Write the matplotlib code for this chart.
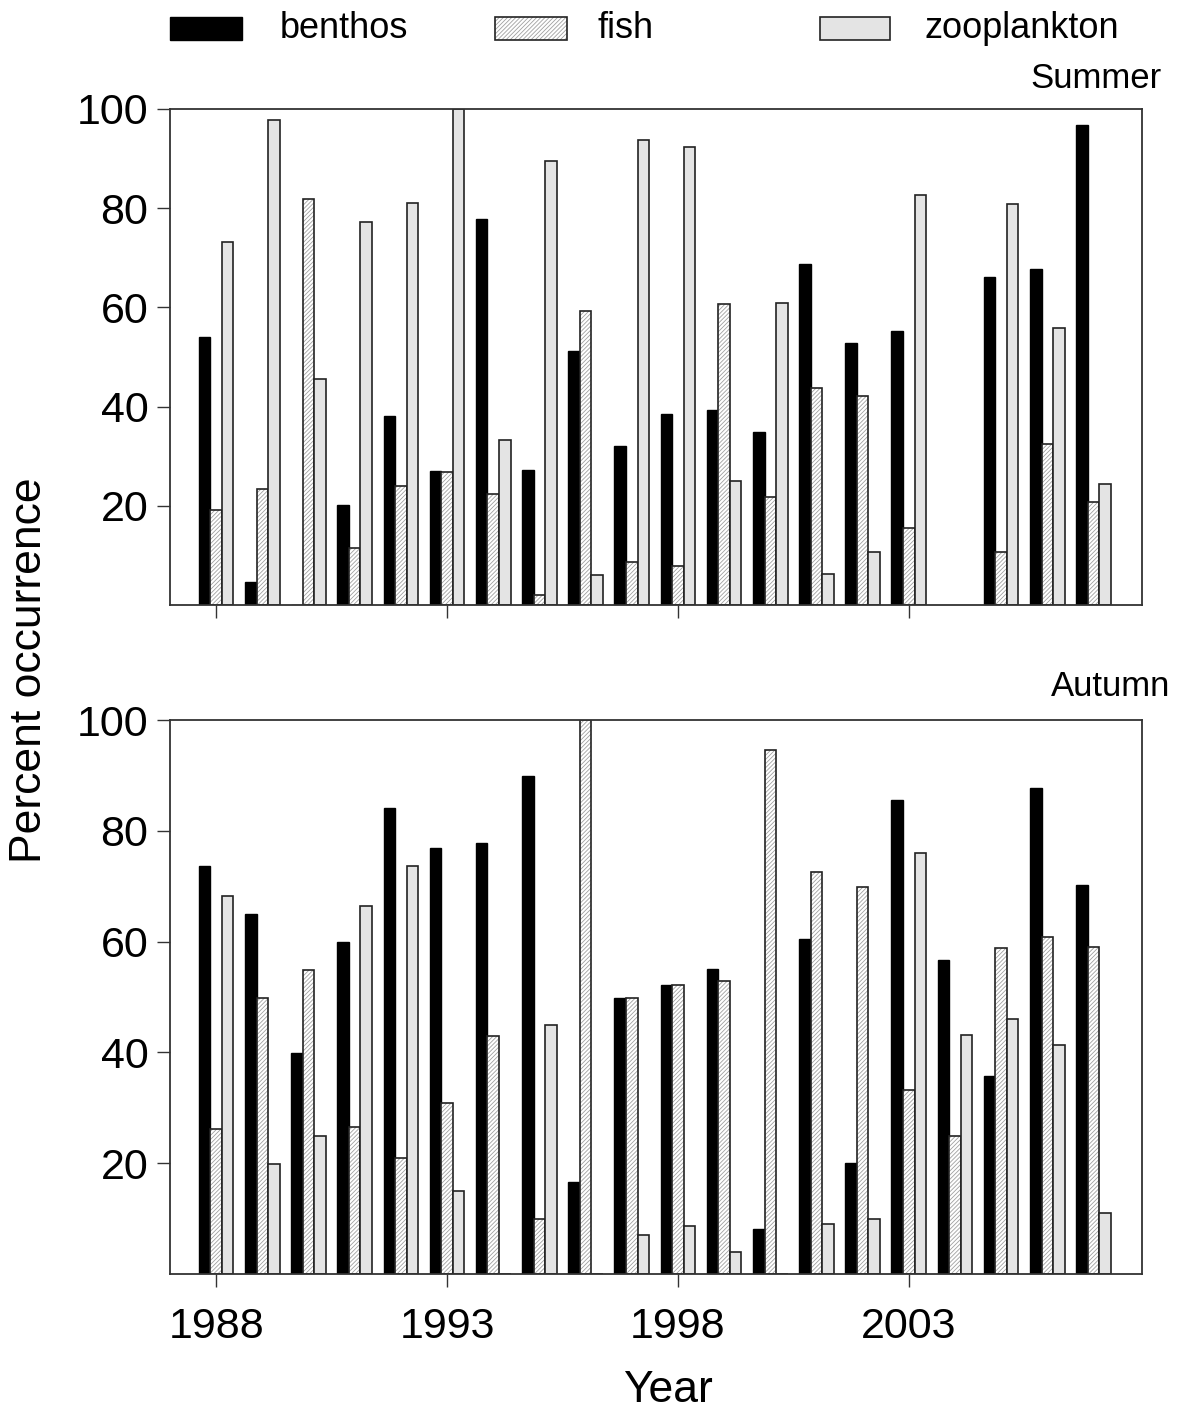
import numpy as np
import matplotlib
matplotlib.use("Agg")
import matplotlib.pyplot as plt
from matplotlib.patches import Rectangle

plt.rcParams['font.family'] = ['Liberation Sans', 'DejaVu Sans']
plt.rcParams['hatch.linewidth'] = 0.6

years = np.arange(1988, 2008)
series = ["benthos", "fish", "zooplankton"]
tick_years = [1988, 1993, 1998, 2003]
y_ticks = [20, 40, 60, 80, 100]

nan = np.nan
summer_benthos = [54, 4.7, 0, 20.1, 38.1, 27.1, 77.8, 27.2, 51.2, 32.1,
                  38.6, 39.4, 34.8, 68.8, 52.8, 55.3, nan, 66.1, 67.7, 96.7]
summer_fish = [19.2, 23.4, 81.8, 11.4, 24.0, 26.9, 22.3, 2.1, 59.2, 8.6,
               7.8, 60.7, 21.8, 43.7, 42.1, 15.5, nan, 10.6, 32.4, 20.7]
summer_zoo = [73.1, 97.7, 45.5, 77.2, 81.0, 100, 33.3, 89.5, 6.1, 93.7,
              92.3, 25.0, 60.9, 6.3, 10.6, 82.7, nan, 80.9, 55.9, 24.3]

autumn_benthos = [73.6, 64.9, 39.9, 59.9, 84.1, 76.9, 77.8, 89.9, 16.6, 49.9,
                  52.1, 55.1, 8.1, 60.5, 20.0, 85.6, 56.7, 35.8, 87.7, 70.2]
autumn_fish = [26.2, 49.8, 54.8, 26.5, 20.9, 30.9, 43.0, 9.9, 100, 49.9,
               52.1, 52.9, 94.5, 72.6, 69.9, 33.3, 24.9, 58.8, 60.8, 59.1]
autumn_zoo = [68.2, 19.9, 24.9, 66.5, 73.6, 14.9, 0, 45.0, 0, 7.1,
              8.6, 4.0, 0, 9.0, 9.9, 76.0, 43.1, 46.0, 41.4, 11.1]

W, H = 1182, 1414
fig = plt.figure(figsize=(W / 100, H / 100), dpi=100)

def fx(px):
    return px / W

def fy(py):
    return 1 - py / H

ax_s = fig.add_axes([fx(170), fy(605), fx(1142) - fx(170), fy(109) - fy(605)])
ax_a = fig.add_axes([fx(170), fy(1274), fx(1142) - fx(170), fy(720) - fy(1274)])

bw = 0.25
HATCH = '////////'
HATCH_COL = '#a0a0a0'
OUTLINE = '#222222'

def draw(ax, data):
    b, f, z = data
    ax.bar(years - bw, b, width=bw, color='black', edgecolor='black', linewidth=1.0)
    # fish: light hatch + dark outline
    ax.bar(years, f, width=bw, color='white', edgecolor=HATCH_COL, linewidth=0, hatch=HATCH)
    ax.bar(years, f, width=bw, fill=False, edgecolor=OUTLINE, linewidth=1.2)
    ax.bar(years + bw, z, width=bw, color='#e4e4e4', edgecolor=OUTLINE, linewidth=1.2)
    ax.set_xlim(1987.0, 2008.05)
    ax.set_ylim(0, 100)
    ax.set_xticks(tick_years)
    ax.set_yticks(y_ticks)
    ax.tick_params(direction='out', length=9.5, width=1.0, labelsize=31, color='#333333')
    ax.tick_params(axis='x', pad=14)
    ax.tick_params(axis='y', pad=6)
    for sp in ax.spines.values():
        sp.set_linewidth(1.3)
        sp.set_color('#333333')

draw(ax_s, [summer_benthos, summer_fish, summer_zoo])
draw(ax_a, [autumn_benthos, autumn_fish, autumn_zoo])
ax_s.set_xticklabels([])

fig.text(fx(1162), fy(78), "Summer", ha='right', va='center', fontsize=25)
fig.text(fx(1170), fy(686), "Autumn", ha='right', va='center', fontsize=25)
fig.text(fx(30), fy(670), "Percent occurrence", rotation=90, ha='center', va='center', fontsize=32)
fig.text(fx(668), fy(1390), "Year", ha='center', va='center', fontsize=32)

# legend
legend_boxes = [(170, 242), (495, 567), (820, 890)]
legend_text_x = [280, 597, 925]
box_styles = [
    [dict(facecolor='black', edgecolor='black', linewidth=1.0)],
    [dict(facecolor='white', edgecolor=HATCH_COL, linewidth=0, hatch=HATCH),
     dict(fill=False, edgecolor=OUTLINE, linewidth=1.2)],
    [dict(facecolor='#e4e4e4', edgecolor=OUTLINE, linewidth=1.2)],
]
for i, name in enumerate(series):
    x0, x1 = legend_boxes[i]
    for st in box_styles[i]:
        rect = Rectangle((fx(x0), fy(40)), fx(x1) - fx(x0), fy(17) - fy(40),
                         transform=fig.transFigure, **st)
        fig.add_artist(rect)
    fig.text(fx(legend_text_x[i]), fy(29), name, ha='left', va='center', fontsize=26)

fig.savefig("out.png", dpi=100)
